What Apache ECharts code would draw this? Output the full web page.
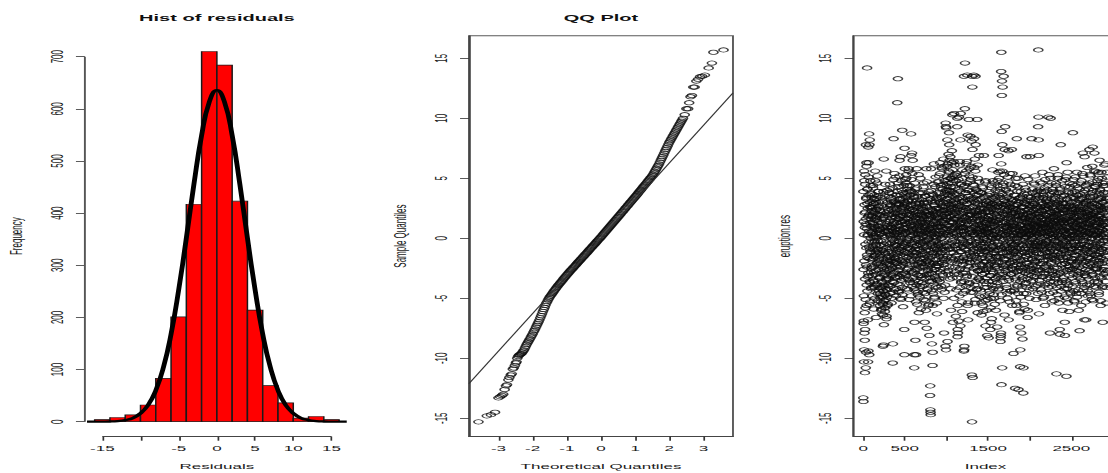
<!DOCTYPE html>
<html><head><meta charset="utf-8">
<script src="https://cdn.jsdelivr.net/npm/echarts@6/dist/echarts.min.js"></script>
<style>
html,body{margin:0;padding:0;background:#fff;overflow:hidden;width:1108px;height:473px;}
#wrap{width:1108px;height:473px;overflow:hidden;position:relative;}
#chart{width:520px;height:473px;transform:scaleX(2.130769);transform-origin:0 0;}
</style></head><body><div id="wrap"><div id="chart"></div></div>
<script>
// ---------- DATA ----------
const histEdges = [-16,-14,-12,-10,-8,-6,-4,-2,0,2,4,6,8,10,12,14,16];
const histCounts = [4,8,13,32,83,201,417,710,684,423,214,69,36,7,10,4];
const densityX = [-17,-16,-15,-14,-13,-12,-11,-10,-9,-8,-7,-6,-5,-4,-3,-2,-1,0,1,2,3,4,5,6,7,8,9,10,11,12,13,14,15,16,17];
const densityY = [0.02,0.05,0.15,0.4,1.2,3,7,16,32,60,104,168,253,352,456,549,613,636,613,549,456,352,253,168,104,60,32,16,7,3,1.2,0.4,0.15,0.05,0.02];
const histXTicks = [-15,-10,-5,0,5,10,15];
const histXLabels = [-15,-5,0,5,10,15];
const histYTicks = [0,100,200,300,400,500,600,700];

// QQ plot: [theoretical quantile, sample quantile] read along the point band
const qqLowTail = [[-3.585,-15.3],[-3.34,-14.8],[-3.22,-14.7],[-3.10,-14.5],[-3.0,-13.3],[-2.95,-13.2],[-2.9,-13.1],[-2.86,-13.0],[-2.82,-12.6],[-2.78,-12.3],[-2.75,-12.2],[-2.71,-11.8],[-2.68,-11.6],[-2.64,-11.4],[-2.61,-11.3],[-2.58,-10.9],[-2.55,-10.8],[-2.52,-10.6],[-2.49,-10.4],[-2.47,-10.3]];
const qqBandTheo = [-2.45,-2.425,-2.4,-2.375,-2.35,-2.325,-2.3,-2.275,-2.25,-2.225,-2.2,-2.175,-2.15,-2.125,-2.1,-2.075,-2.05,-2.025,-2.0,-1.975,-1.95,-1.925,-1.9,-1.875,-1.85,-1.825,-1.8,-1.775,-1.75,-1.725,-1.7,-1.675,-1.65,-1.625,-1.6,-1.575,-1.55,-1.525,-1.5,-1.475,-1.45,-1.425,-1.4,-1.375,-1.35,-1.325,-1.3,-1.275,-1.25,-1.225,-1.2,-1.175,-1.15,-1.125,-1.1,-1.075,-1.05,-1.025,-1.0,
 -0.975,-0.95,-0.925,-0.9,-0.875,-0.85,-0.825,-0.8,-0.775,-0.75,-0.725,-0.7,-0.675,-0.65,-0.625,-0.6,-0.575,-0.55,-0.525,-0.5,-0.475,-0.45,-0.425,-0.4,-0.375,-0.35,-0.325,-0.3,-0.275,-0.25,-0.225,-0.2,-0.175,-0.15,-0.125,-0.1,-0.075,-0.05,-0.025,0,
 0.025,0.05,0.075,0.1,0.125,0.15,0.175,0.2,0.225,0.25,0.275,0.3,0.325,0.35,0.375,0.4,0.425,0.45,0.475,0.5,0.525,0.55,0.575,0.6,0.625,0.65,0.675,0.7,0.725,0.75,0.775,0.8,0.825,0.85,0.875,0.9,0.925,0.95,0.975,1.0,
 1.025,1.05,1.075,1.1,1.125,1.15,1.175,1.2,1.225,1.25,1.275,1.3,1.325,1.35,1.375,1.4,1.425,1.45,1.475,1.5,1.525,1.55,1.575,1.6,1.625,1.65,1.675,1.7,1.725,1.75,1.775,1.8,1.825,1.85,1.875,1.9,1.925,1.95,1.975,2.0,
 2.025,2.05,2.075,2.1,2.125,2.15,2.175,2.2,2.225,2.25,2.275,2.3,2.325,2.35,2.375,2.4];
const qqBandSample = [-10.0,-9.85,-9.75,-9.7,-9.65,-9.6,-9.5,-9.4,-9.3,-9.15,-9.0,-8.85,-8.72,-8.6,-8.48,-8.36,-8.22,-8.1,-7.97,-7.82,-7.68,-7.55,-7.4,-7.25,-7.1,-6.95,-6.8,-6.62,-6.45,-6.28,-6.1,-5.93,-5.76,-5.58,-5.42,-5.28,-5.15,-5.02,-4.9,-4.8,-4.7,-4.6,-4.5,-4.4,-4.3,-4.2,-4.1,-4.01,-3.92,-3.84,-3.75,-3.66,-3.58,-3.49,-3.4,-3.31,-3.23,-3.14,-3.05,
 -2.97,-2.89,-2.81,-2.73,-2.65,-2.58,-2.5,-2.42,-2.34,-2.26,-2.18,-2.1,-2.02,-1.94,-1.87,-1.79,-1.71,-1.63,-1.55,-1.47,-1.39,-1.31,-1.24,-1.16,-1.08,-1.0,-0.92,-0.84,-0.76,-0.68,-0.6,-0.53,-0.45,-0.37,-0.29,-0.21,-0.13,-0.05,0.03,0.1,
 0.18,0.27,0.35,0.44,0.52,0.6,0.69,0.77,0.86,0.94,1.02,1.11,1.19,1.28,1.36,1.44,1.53,1.61,1.7,1.78,1.86,1.95,2.03,2.12,2.2,2.28,2.37,2.45,2.54,2.62,2.7,2.79,2.87,2.96,3.04,3.12,3.21,3.29,3.38,3.46,
 3.55,3.63,3.72,3.81,3.9,3.98,4.07,4.16,4.25,4.33,4.42,4.51,4.6,4.68,4.77,4.86,4.95,5.04,5.12,5.21,5.32,5.44,5.57,5.7,5.82,5.95,6.07,6.2,6.35,6.5,6.65,6.8,6.95,7.1,7.25,7.4,7.55,7.7,7.85,8.0,
 8.12,8.25,8.37,8.5,8.62,8.75,8.87,9.0,9.12,9.25,9.37,9.5,9.62,9.75,9.87,10.0];
const qqHighTail = [[2.45,10.3],[2.5,10.8],[2.55,10.8],[2.58,11.3],[2.62,11.8],[2.66,11.9],[2.7,12.6],[2.74,12.6],[2.79,13.1],[2.84,13.25],[2.9,13.47],[2.96,13.5],[3.04,13.6],[3.15,14.2],[3.245,14.6],[3.29,15.5],[3.585,15.7]];
const qqLineEnds = [[-3.862,-12.11],[3.862,12.11]];
const qqXTicks = [-3,-2,-1,0,1,2,3];
const resYTicks = [-15,-10,-5,0,5,10,15];
const indexTicks = [0,500,1000,1500,2000,2500,3000];
const indexLabels = [0,500,1500,2500];

// residuals at odd indices, one list per block of 100 indices
const residOdd = [
[-13.3,-13.6,-7.1,-6.9,-10.3,-9.3,4.8,-7.9,2.1,-8.5,-11.2,-7.6,5.3,-5.8,1.2,-10.8,7.8,-9.5,3.4,6.3,-5.6,0.8,-2.4,14.2,2.9,-1.6,4.1,-3.2,0.3,-10.3,7.6,-9.4,6.3,1.9,-0.7,8.7,-9.7,7.8,-3.6,8.2,2.6,-5.3,3.7,-1.1,0.5,4.4,-2.8,1.6,-4.1,2.3],
[1.8,-2.3,3.1,0.4,-4.8,2.6,-0.9,1.3,-3.5,4.2,-1.7,0.2,2.9,-5.9,1.1,-2.8,3.6,-0.3,-4.1,2.2,0.9,-1.4,5.6,-3.0,1.7,-0.6,2.4,-6.6,0.1,3.3,-2.1,1.5,-1.0,4.6,-3.8,0.7,-5.2,2.0,-0.2,3.9,-2.6,1.0,-1.9,2.7,-4.4,0.5,3.0,-1.2,1.9,-3.3],
[-1.5,2.3,-4.6,0.8,-5.3,-2.1,3.4,-4.2,-0.6,-5.9,1.6,-3.7,-6.3,0.2,-4.9,2.7,-2.4,-5.5,-9.0,-1.0,-4.4,3.9,-8.9,6.6,-7.2,-3.1,-5.8,0.6,-4.0,1.9,-6.1,-2.8,4.5,-4.7,-1.3,-5.1,2.1,-3.4,5.6,-0.4,-6.5,-2.2,1.2,-4.3,3.0,-5.6,-1.8,0.9,-3.9,2.5],
[0.6,-2.7,3.5,-1.1,2.0,-3.9,1.4,-0.5,4.1,-2.2,0.3,-4.6,2.8,-1.6,1.0,3.2,-3.0,0.0,-1.9,2.4,-5.4,1.7,-0.8,3.7,-2.5,0.9,-3.6,-10.4,-8.8,2.2,-1.4,4.9,8.3,-2.9,1.2,-0.2,3.0,-4.3,0.5,-1.7,2.6,-3.3,1.8,-0.6,5.1,-2.0,0.4,-4.8,2.9,-1.2],
[1.3,-2.4,0.2,3.6,11.3,-1.5,2.1,-3.8,13.3,0.7,-0.9,4.3,-2.7,1.6,-4.5,2.8,-0.3,1.0,6.5,-3.2,0.5,-1.8,3.3,-5.0,6.8,1.9,-2.3,0.1,4.8,-3.5,-1.0,2.5,-0.6,-4.1,9.0,1.4,-2.0,3.8,0.3,-5.7,2.2,-1.3,0.8,3.1,-2.9,1.5,-7.6,-9.7,7.5,-0.4],
[2.6,-1.1,4.9,0.5,-3.0,3.4,1.2,-2.1,5.3,-0.3,2.0,-4.2,3.8,0.9,-1.6,2.7,4.4,-0.8,1.6,-3.4,3.1,0.0,-2.5,5.8,1.9,-1.3,2.3,-5.1,0.6,3.6,-0.9,1.4,-3.7,4.0,0.2,-1.9,2.8,8.7,6.9,-2.7,1.1,3.9,-0.5,7.1,-4.0,2.4,0.7,6.5,-1.4,1.8],
[-0.7,2.2,-3.3,1.0,-1.8,3.5,-10.8,-9.7,-7.0,0.4,-2.6,4.1,-0.1,-8.5,1.7,-4.4,2.9,-9.7,-1.2,0.8,-3.0,5.8,-0.6,1.9,-5.5,3.2,-2.2,0.3,-4.7,2.5,-1.4,1.1,-3.6,5.3,0.0,-2.4,3.0,-0.9,1.6,-4.9,2.0,-1.7,0.6,-3.1,3.7,-0.3,-5.9,1.4,-2.0,2.7],
[-2.1,1.5,-0.4,3.2,-3.7,0.9,-1.3,2.4,-4.5,0.2,1.8,-2.8,4.6,-0.8,-3.9,1.1,2.9,-1.6,0.5,-7.0,-2.4,3.5,-0.2,1.3,-5.2,2.1,-1.0,-3.3,0.7,5.8,-1.9,-7.5,2.6,-0.6,1.0,-4.2,3.0,-2.7,0.4,-1.5,2.2,-5.6,1.6,-0.1,3.9,-3.0,0.8,-8.1,-2.2,1.9],
[-1.7,-13.1,-12.3,-14.3,-14.5,-14.7,0.6,5.8,-2.9,1.8,-0.5,3.1,-8.8,-3.6,0.9,-1.2,-10.6,-9.5,2.3,-4.6,1.2,-2.0,3.6,-0.3,6.2,-2.6,0.4,-5.0,2.7,-1.4,1.5,-3.2,4.3,-0.7,-2.3,2.0,-4.0,0.1,3.3,-1.8,1.0,-5.4,2.5,-0.9,-3.5,1.7,4.7,-2.1,0.3,-1.1],
[1.2,3.8,-0.6,2.5,-2.3,5.2,0.4,-1.5,3.0,-3.6,1.7,6.3,-0.9,2.1,-2.8,4.4,0.0,-1.2,3.4,-4.3,1.0,5.9,-0.4,2.7,-2.0,1.5,4.1,-3.1,0.7,2.3,-1.7,6.6,0.2,-5.0,3.6,-7.9,1.3,-0.8,4.8,-2.5,2.0,0.5,-3.9,3.1,-9.0,9.6,9.3,-9.3,1.8,9.2],
[2.9,5.1,0.8,4.0,-1.5,8.2,-8.6,3.3,6.2,1.1,-2.7,4.6,7.0,0.3,2.4,8.8,7.8,-0.9,5.5,1.8,-3.4,3.7,0.6,6.8,2.2,-1.2,4.3,-6.0,1.4,5.0,-0.4,2.8,7.3,-2.0,3.9,10.3,0.9,5.7,-7.0,2.6,1.3,4.8,-1.8,6.4,0.0,10.4,3.2,-3.0,1.9,5.3],
[1.6,-2.4,4.2,0.5,-0.8,3.0,-6.5,2.1,5.4,-1.4,0.2,3.6,-3.3,1.1,9.3,10.0,-8.2,-7.6,2.7,-7.9,0.6,-1.9,4.9,-6.9,1.8,10.1,-0.5,3.2,-2.6,0.9,6.1,-4.1,2.3,-7.3,8.2,10.4,1.3,-1.1,4.5,-3.6,0.0,2.6,-5.3,1.5,5.7,-0.7,3.4,-2.2,0.8,-4.6],
[0.9,3.1,-1.6,2.2,-9.4,13.5,-9.3,-9.0,4.4,-0.4,10.8,14.6,1.7,-2.9,3.8,0.3,-4.0,2.5,5.6,-1.0,1.4,-3.2,6.4,0.1,13.6,2.9,-1.8,8.6,4.0,-5.4,-6.8,1.2,-0.6,3.5,9.9,-2.4,0.7,5.2,-3.7,2.0,-1.3,4.7,0.4,-2.0,8.5,1.9,-4.5,3.3,-0.2,6.0],
[8.1,1.4,-11.4,-15.3,13.5,12.6,7.4,-11.6,2.6,-1.1,4.5,0.3,-2.8,3.2,13.6,8.3,-0.5,5.9,-3.9,1.7,6.6,-1.4,2.3,-5.1,13.5,7.8,0.8,-2.3,4.1,-0.3,1.9,-4.3,3.6,0.5,9.9,-1.8,2.9,-6.2,5.0,1.1,-2.7,0.0,3.9,-3.4,1.5,6.9,-0.9,2.2,-4.8,0.6],
[-1.3,2.4,0.2,-3.5,1.6,3.8,-0.7,-4.9,2.0,0.6,-6.4,-2.2,4.3,1.0,-1.6,2.8,-3.0,0.3,-5.6,1.9,-0.4,3.4,-2.6,0.9,6.9,-1.1,-4.1,2.5,0.0,-2.9,1.3,4.7,-0.8,-5.2,-7.3,2.2,-1.9,0.5,3.1,-3.8,1.1,-0.2,-6.0,2.7,-8.1,-1.4,0.8,3.6,-2.4,1.5],
[0.4,-2.5,1.8,-8.3,3.0,-0.9,2.2,-4.4,0.7,-1.7,3.7,-3.1,1.2,-7.6,-0.3,2.6,-5.0,-7.0,1.5,-2.0,4.2,0.1,-6.7,2.9,-1.3,0.9,5.7,-3.6,1.7,-0.6,3.3,-2.8,0.3,-4.7,2.4,-1.0,1.1,4.6,-2.2,0.6,-5.5,2.0,-0.8,3.4,-3.3,1.4,-1.5,2.8,0.0,-4.0],
[1.9,-2.3,3.5,0.2,-7.4,2.6,-1.0,4.8,-3.2,1.3,-0.5,5.5,-2.0,6.9,0.8,-4.2,2.9,-1.5,3.9,0.0,-3.0,5.6,1.6,-0.8,-8.6,-8.3,-8.1,-7.9,13.9,15.5,-12.2,8.9,11.9,13.1,-10.8,7.8,2.1,12.6,-1.2,4.4,-3.6,0.5,2.7,13.5,-2.5,1.0,5.3,-0.7,3.1,7.4],
[1.4,-0.6,9.3,2.8,-2.7,0.3,4.1,-1.8,1.0,-3.9,2.3,0.6,-1.2,3.4,-4.6,0.9,2.0,-2.4,5.1,-0.3,1.7,-3.3,7.3,-6.8,0.4,2.6,-1.5,3.8,-0.9,-5.3,1.2,2.9,-2.1,0.0,4.5,-3.0,1.6,-0.4,2.2,-4.4,0.7,3.2,7.4,-1.9,1.1,-2.6,5.4,0.2,-1.0,2.5],
[-0.8,2.1,-9.6,0.5,-2.9,3.6,1.2,-4.3,0.0,2.7,-1.6,4.4,-12.5,-0.5,1.8,-3.5,2.4,-1.1,0.7,-5.6,3.1,-2.2,8.3,0.9,-0.3,1.5,-4.0,2.8,-1.4,5.0,0.2,-2.7,-12.6,1.9,-0.7,3.3,-3.1,0.6,-6.1,2.2,-1.8,-7.4,-10.7,-9.3,1.0,-2.4,3.9,0.3,-7.9,-1.3],
[1.1,-1.9,2.6,0.4,-3.4,1.7,-8.4,3.5,-0.6,2.0,-2.5,-12.9,-10.8,0.8,-4.6,1.4,3.0,-1.2,0.1,-5.9,2.3,-0.8,4.2,-2.9,1.6,0.5,-3.7,2.8,-1.5,0.9,6.8,-2.1,1.3,-4.1,3.7,-0.4,2.1,-6.6,0.6,-1.7,4.9,1.0,-3.0,2.4,-0.9,0.3,-2.3,3.2,-5.0,1.8],
[0.7,6.8,-1.4,2.2,-0.2,1.5,-2.8,3.1,0.4,-3.6,1.9,8.3,-0.9,2.7,-1.8,0.0,3.8,-2.3,1.2,-4.2,0.6,2.4,-1.0,4.6,-2.6,1.0,0.2,-3.2,2.9,-0.6,1.7,-1.9,5.2,0.9,-2.0,3.3,-0.4,1.4,-5.1,2.0,-1.2,0.5,3.5,-2.7,1.1,-0.7,2.6,-3.9,0.3,4.0],
[9.3,15.7,10.1,8.2,6.9,-6.3,1.8,-1.3,3.4,0.2,-2.6,2.0,4.7,-0.7,1.3,-3.8,2.6,0.5,-1.6,3.9,-0.3,1.6,-4.5,2.3,0.8,-2.1,5.5,1.2,-0.9,2.9,-3.2,0.4,3.6,-1.8,1.0,-4.9,2.4,0.1,-2.4,4.2,1.5,-5.6,-0.5,2.7,-3.0,0.9,1.9,-1.1,3.1,-0.2],
[1.6,-2.2,3.3,0.6,-0.9,4.0,-3.4,1.2,2.5,-1.5,0.2,10.1,-4.1,2.8,0.9,-0.4,5.3,-2.7,1.5,3.1,-1.1,-7.9,0.4,2.2,-3.6,10.0,1.8,-0.6,3.7,-2.0,0.0,4.6,-5.3,1.3,-1.4,2.6,0.7,-3.0,3.9,-0.8,1.1,-4.5,2.0,0.3,-1.7,5.8,-2.5,1.4,0.5,-3.3],
[0.9,2.7,-1.8,3.5,0.1,-3.1,1.6,4.4,-0.7,2.0,-11.3,-2.4,1.0,3.0,-4.7,0.5,2.3,-1.2,5.0,-0.3,1.4,-3.7,2.9,0.7,-5.4,3.8,-1.6,0.2,2.1,-2.9,-7.6,-8.0,1.2,4.1,-0.9,2.5,7.8,-1.4,0.6,-4.0,3.2,1.7,-2.2,0.0,4.8,-3.5,1.5,-0.6,2.4,-1.0],
[-0.4,2.1,-2.8,1.3,3.6,-1.0,0.6,-4.2,2.4,-0.2,-7.0,-8.1,1.8,4.9,-2.1,0.3,-3.5,2.9,1.0,-1.5,-11.5,6.3,0.4,-5.0,3.3,-0.8,1.6,5.5,-2.6,0.1,2.6,-3.9,1.2,-0.6,3.8,-1.9,0.8,-6.1,2.2,0.0,-2.4,4.3,1.4,-1.2,0.5,-4.6,2.7,-0.3,1.9,-2.0],
[1.5,-1.7,3.0,0.2,-3.3,2.4,4.5,-0.9,1.1,8.8,-2.5,0.6,3.4,-4.4,1.8,-0.3,2.7,-1.4,0.0,-5.3,3.9,1.3,-2.2,0.8,5.1,-0.6,2.2,-3.8,1.0,-1.1,3.6,0.4,-2.7,1.7,-4.9,2.9,-0.2,0.9,4.2,-1.9,1.4,-3.0,2.3,0.3,-6.0,1.9,-0.8,3.2,-2.4,-7.7],
[0.8,2.6,-1.3,3.7,0.0,-2.9,1.5,4.6,-0.5,-5.6,2.1,-1.9,0.7,3.3,-3.6,1.2,5.4,-0.8,2.4,7.1,-1.5,0.3,-4.3,2.9,1.0,-2.3,3.8,-0.2,-6.8,6.8,1.6,-3.1,0.5,2.2,-1.0,4.4,-2.6,0.9,3.0,-6.8,1.3,-0.7,2.5,-3.9,0.2,5.9,-1.6,1.8,-4.8,2.0],
[-1.2,2.3,0.5,-3.4,4.1,1.1,-0.6,2.8,7.4,-2.1,0.9,3.5,-4.6,1.6,-0.3,2.0,5.2,-1.7,0.4,-2.8,3.1,1.4,-5.1,0.0,2.6,-1.0,4.7,-3.0,7.6,1.9,-0.9,3.6,-2.3,0.6,2.1,-4.0,1.3,5.6,7.1,-1.4,0.2,2.9,-3.3,1.0,-0.5,4.3,-2.6,1.7,0.3,-1.8],
[2.2,-0.7,3.9,1.0,-2.5,0.4,4.8,-1.6,2.7,-3.7,1.5,0.0,5.5,-2.1,1.8,-4.5,3.2,0.6,-1.3,6.5,2.0,-3.2,0.9,4.0,-0.4,1.3,-5.2,2.6,-1.1,3.4,0.2,-2.6,1.6,5.0,-0.9,2.3,-4.1,0.7,-7.0,3.0,1.1,-1.8,4.4,0.1,-3.0,2.5,-0.2,1.4,-2.4,3.6],
[1.7,-2.0,4.6,0.5,-3.6,2.8,6.2,-0.8,1.2,-5.4,3.3,0.0,-1.5,2.4,5.1,-2.7,0.9,3.8,-1.1]
];
// residuals at even indices, one list per block of 100 indices
const residEven = [
[3.9,-2.6,1.4,-4.8,0.3,5.6,-1.9,2.8,-6.2,0.9,-3.4,4.5,-0.5,2.2,-5.1,1.6,-2.2,3.3,-0.8,6.0,-3.9,1.1,-1.4,4.1,-4.4,0.2,2.5,-6.8,1.8,-2.9,3.6,-0.3,5.1,-3.1,0.6,-1.7,2.0,-5.5,3.0,-0.9,1.3,-3.7,4.8,-1.2,0.0,2.6,-4.2,1.0,-2.5,3.4],
[-0.3,2.5,-1.8,3.7,0.6,-3.1,1.9,-0.7,4.4,-2.4,1.2,-4.0,0.1,2.9,-1.5,3.3,-3.6,0.8,-0.2,2.1,-5.0,1.5,4.8,-1.1,0.4,-2.7,3.0,-0.5,1.7,-3.9,2.4,0.0,-1.3,5.2,-2.0,1.0,-4.6,3.5,-0.9,2.6,-2.2,0.7,3.9,-1.7,1.4,-3.3,0.3,2.0,-0.6,-5.6],
[-3.2,0.7,-5.0,-1.4,2.2,-4.1,-0.2,-6.0,1.3,-2.9,-4.8,0.4,-3.6,-1.0,3.1,-5.4,-2.3,0.9,-4.4,-6.4,1.8,-1.7,-3.9,-0.5,2.6,-5.2,-2.6,0.1,-4.7,-1.2,3.5,-3.0,-5.8,0.5,-2.0,-4.2,1.4,-0.8,-3.5,-6.7,0.2,-2.5,4.0,-4.9,-1.6,1.0,-3.3,-5.5,0.6,-2.1],
[2.3,-1.5,0.4,-3.4,1.9,3.8,-0.9,-2.6,0.8,4.5,-1.8,2.7,-4.0,0.2,1.5,-2.3,3.4,-0.4,-5.0,2.0,0.9,-1.2,3.0,-3.1,1.2,-0.1,4.2,-2.0,0.6,-4.5,2.5,-0.7,1.4,-3.7,3.1,0.3,-1.6,5.4,-2.8,0.8,2.1,-0.5,-3.2,1.7,3.6,-1.0,0.0,-4.2,2.8,-1.9],
[-0.6,2.4,-2.1,1.0,3.9,-3.3,0.5,2.0,-1.3,4.6,-4.4,1.6,-0.2,2.9,-2.6,0.3,5.2,-1.1,1.8,-3.9,3.2,0.7,-2.4,1.3,-0.8,3.6,-5.1,2.2,0.0,-1.9,4.0,-3.0,1.1,2.6,-0.4,-4.7,1.9,3.3,-2.2,0.6,-1.5,2.4,4.4,-3.4,0.9,-0.7,2.8,-2.9,1.4,5.8],
[3.0,0.4,-1.9,4.6,1.7,-0.5,2.9,-3.1,5.0,1.2,-1.2,3.5,0.0,-2.6,4.1,2.2,-0.8,1.6,-4.3,3.2,0.7,5.6,-1.5,2.5,-0.2,3.9,-3.5,1.3,4.4,-0.9,2.0,0.5,-2.2,3.6,1.0,-4.8,2.7,0.2,4.9,-1.7,1.9,-0.4,3.1,-2.9,5.4,0.8,-1.1,2.4,0.3,-3.7],
[1.5,-2.8,0.6,3.4,-1.5,-4.2,2.3,-0.3,1.2,-3.5,4.6,-0.9,2.0,-2.2,0.0,-5.3,3.1,-1.2,1.4,-3.9,2.6,-0.6,4.2,-2.6,0.9,-1.8,3.5,-4.5,1.7,-0.2,-3.1,2.2,0.4,-6.2,1.0,3.8,-2.0,0.7,-1.0,2.9,-4.0,1.3,-0.5,5.0,-2.4,0.3,-3.3,1.9,-1.4,2.5],
[0.4,-3.1,2.0,-1.1,3.8,-4.0,1.3,-0.6,2.6,-2.3,0.2,4.3,-1.7,-5.1,1.6,-0.3,3.0,-3.4,0.9,2.2,-1.4,-4.6,3.5,0.6,-2.1,1.1,-6.0,2.7,-0.8,1.9,-3.0,0.1,4.7,-1.9,-0.2,2.3,-4.3,1.5,3.2,-2.6,0.7,-1.0,2.0,-5.5,0.0,3.6,-2.0,1.2,-3.6,0.5],
[2.0,-1.0,3.3,-3.3,0.7,-0.4,1.6,-2.5,4.0,-4.4,0.3,2.4,-1.5,1.1,-3.0,3.7,-0.6,-5.6,2.1,0.5,-2.1,4.5,-1.2,1.4,-3.8,0.1,2.8,-0.9,-4.9,1.9,3.0,-2.6,0.6,-1.8,5.1,-0.2,1.2,-3.4,2.5,0.0,-2.3,1.7,-6.3,3.4,-1.3,0.9,-0.5,2.2,-4.1,1.0],
[3.2,-0.4,1.6,4.7,-2.1,2.4,0.2,-3.4,3.7,1.0,-1.3,5.4,0.6,-2.6,2.9,-0.7,4.2,1.4,-4.0,2.0,0.0,3.4,-1.8,5.8,0.9,-0.9,2.6,-3.0,1.8,4.5,-1.5,0.4,3.0,-2.2,1.2,6.0,-0.3,2.3,-4.5,1.5,3.8,-1.0,0.7,2.7,-2.8,4.0,0.3,-1.7,2.1,-0.6],
[4.4,1.6,-0.7,3.3,6.0,2.1,-1.9,4.9,0.5,3.6,-3.0,2.6,5.6,1.0,-0.4,4.0,2.8,-2.4,6.5,1.4,3.9,-0.9,2.3,5.0,-4.2,1.8,3.1,0.2,4.6,-1.6,2.5,6.3,0.8,-0.2,3.5,1.3,-3.3,5.2,2.0,0.4,4.3,-1.2,2.9,1.6,-5.0,3.7,0.9,6.1,2.4,-0.6],
[2.2,-0.3,3.7,-2.8,1.0,4.8,-1.5,0.4,2.9,-4.3,1.7,-0.9,5.2,0.2,-2.1,3.3,-5.6,1.4,-0.6,2.5,4.1,-3.0,0.8,1.9,-1.7,3.4,0.0,-4.8,2.7,6.4,-1.1,1.2,-2.5,3.9,0.6,-0.8,2.1,-3.7,4.5,1.0,-1.9,0.3,3.0,-6.1,1.6,5.0,-0.4,2.4,-2.9,0.9],
[-0.2,2.6,4.3,-1.9,1.3,-3.6,0.6,3.1,-0.9,5.4,1.8,-2.6,0.2,2.3,-4.4,3.8,0.9,-1.4,6.2,1.5,-0.5,2.9,-3.1,0.4,4.6,-1.7,1.1,-5.6,2.0,3.5,-0.3,-2.3,1.6,4.0,0.0,-3.8,2.5,5.8,-1.2,0.8,3.2,-2.0,1.9,-0.7,4.9,-4.1,0.5,2.2,-1.5,3.0],
[2.0,-1.8,3.9,0.5,-3.2,1.6,5.1,-0.6,2.6,-4.5,0.9,3.4,-1.3,1.2,-2.5,4.4,0.3,-0.9,2.1,-5.4,3.0,1.0,-2.0,5.6,0.0,2.4,-3.6,1.5,-0.4,4.0,-1.6,0.7,3.2,-4.2,1.9,-0.8,2.8,6.1,-2.7,0.4,1.4,-1.1,3.6,-3.3,0.8,2.3,-0.2,4.7,-2.2,1.1],
[0.8,-2.7,1.9,-0.5,3.3,-4.3,0.2,2.5,-1.7,-5.4,1.2,3.8,-0.9,-3.0,2.1,0.4,-1.4,4.2,-2.3,1.0,-6.1,2.8,0.0,-3.6,1.5,-0.7,3.5,-2.0,0.6,-4.8,2.2,-1.1,1.7,-3.3,0.3,4.8,-0.4,-2.6,1.3,2.9,-1.9,0.8,-4.1,3.1,-0.2,1.6,-5.1,2.4,-1.2,0.5],
[-1.0,2.7,-3.6,0.5,1.6,-2.2,3.9,-0.4,-4.6,2.2,0.9,-1.5,3.1,-3.1,0.2,-5.8,1.9,-0.8,2.5,-2.6,4.4,0.6,-1.9,1.2,-3.9,2.9,0.0,-0.7,4.8,-2.9,1.4,-4.2,0.3,2.1,-1.2,3.5,-5.0,1.0,-0.3,2.6,-2.4,0.7,-3.4,4.0,1.5,-1.6,-6.0,2.3,0.1,-2.0],
[0.6,3.0,-1.5,2.1,-3.7,1.2,4.4,-0.3,-2.5,2.7,0.1,-4.3,3.6,1.5,-1.0,5.0,-2.8,0.5,2.3,-0.6,3.4,-5.2,1.8,4.1,-1.6,0.3,2.6,-3.3,6.2,1.0,-0.8,-4.7,2.9,0.4,-2.0,3.7,5.6,-1.2,1.3,-3.0,2.0,-0.1,4.6,-2.3,0.8,3.2,-1.8,1.7,-6.4,2.5],
[-1.7,1.9,0.3,-3.2,2.8,-0.5,4.0,-2.2,0.9,1.6,-4.1,3.0,-0.8,2.2,-1.4,0.5,-5.0,3.6,1.1,-2.6,0.0,4.7,-1.1,2.4,-3.5,1.3,0.6,-0.2,3.3,-2.0,5.4,-4.4,1.8,-0.9,2.6,0.2,-3.0,1.4,-1.5,4.2,-0.4,2.0,-2.5,0.8,-5.6,3.1,1.0,-1.3,2.3,-0.6],
[1.3,-2.3,3.2,0.2,-1.1,2.5,-4.4,1.0,-0.5,3.6,-2.0,0.7,-3.3,2.1,5.0,-0.8,1.6,-5.2,0.4,2.8,-1.6,-2.8,3.9,0.0,-3.9,1.9,-0.3,4.3,-1.9,0.9,-4.6,2.4,0.3,-1.2,3.0,-2.5,1.5,-6.2,0.6,2.0,-0.9,3.4,-3.6,1.1,-0.1,-4.9,2.6,0.5,-2.2,1.7],
[-0.5,2.2,-2.7,1.5,0.3,-4.0,3.3,-1.1,0.8,4.5,-3.2,1.9,-0.2,2.6,-5.5,0.6,-1.8,3.7,1.1,-2.4,0.0,5.2,-0.9,1.7,-3.8,2.9,0.4,-1.5,4.0,-4.6,1.3,0.1,-2.1,3.1,-0.6,2.0,-3.4,1.0,-6.0,2.4,0.7,-1.3,3.5,-2.7,0.2,1.6,-4.3,2.8,-0.4,1.2],
[1.4,-1.1,0.3,2.6,-2.5,0.9,3.4,-0.6,1.8,-3.1,0.5,2.2,-1.7,0.0,4.1,-2.2,1.1,-0.4,2.9,-3.5,0.7,1.6,-1.3,3.1,-0.8,2.0,-2.8,0.2,4.5,-1.5,1.2,-0.2,2.5,-4.0,0.6,3.6,-1.0,1.5,-2.4,0.4,2.7,-3.2,1.0,-0.6,3.9,-1.9,0.8,2.1,-0.3,-4.6],
[2.1,-0.9,1.0,-2.7,3.6,0.4,-1.6,2.5,-3.5,1.3,4.1,-0.2,1.8,-2.1,0.6,3.0,-4.3,1.2,-0.7,2.3,0.0,-3.2,4.6,1.5,-1.3,2.8,-0.4,0.9,-5.0,3.4,1.1,-1.9,2.0,-0.6,3.9,-2.9,0.5,1.7,-1.0,2.6,-3.9,0.2,4.9,-1.5,1.3,-0.3,2.4,-2.4,0.8,3.2],
[-0.4,1.9,-2.6,3.0,0.8,-1.2,2.4,-3.8,1.4,0.2,4.4,-1.8,0.6,-2.9,2.7,1.1,-0.7,3.6,-4.6,0.4,2.0,-1.5,1.6,-3.3,5.0,0.1,-0.9,2.2,-2.1,1.0,3.3,-4.0,0.7,-1.6,2.9,0.3,-2.7,4.1,1.2,-0.5,1.8,-3.6,0.0,2.5,-1.1,3.8,-5.2,1.5,-0.2,2.3],
[1.8,-1.4,3.3,-0.2,2.1,-3.4,0.7,4.6,-1.9,1.1,-0.6,2.8,-4.1,0.3,1.9,-2.5,3.7,0.9,-1.1,5.3,-3.0,1.5,-0.4,2.4,0.0,-5.0,3.1,1.3,-1.8,2.0,-0.8,4.2,-2.9,0.6,1.6,-1.3,-4.4,2.6,0.2,3.5,-2.2,1.0,-0.5,2.9,-3.7,1.4,-6.0,0.8,3.0,-1.6],
[0.5,-1.8,2.9,1.2,-3.3,0.1,3.6,-0.9,-4.9,2.3,0.7,-2.1,4.3,-0.4,1.6,-3.7,2.6,0.2,-1.3,5.1,-2.7,1.0,-0.6,3.2,-4.2,1.8,0.4,-1.6,2.2,-5.4,0.9,3.9,-2.3,1.3,-0.1,2.7,-3.1,0.6,-1.0,4.6,1.9,-2.6,0.0,2.1,-4.5,1.4,3.4,-0.8,-1.9,2.5],
[-0.9,2.3,0.6,-2.6,3.8,-1.2,1.4,-4.0,2.6,0.3,-0.5,4.9,-3.0,1.6,-1.7,2.1,-5.2,0.9,3.3,-0.3,1.8,-2.3,4.4,0.0,-3.6,2.4,1.0,-1.4,3.0,-4.6,0.5,1.9,-0.8,5.5,-2.0,1.2,-3.2,2.8,0.2,-1.1,3.6,-4.3,0.8,2.2,-0.6,1.5,-2.8,4.1,0.4,-1.8],
[2.4,-0.6,1.1,-3.4,3.3,0.5,-1.7,2.2,-4.6,1.4,4.8,-0.8,0.3,-2.5,3.6,1.8,-1.2,0.7,-3.8,2.7,5.2,-0.2,1.5,-2.0,0.9,3.4,-4.1,1.2,-0.5,2.5,-2.9,0.1,4.0,-1.4,1.7,-5.3,2.9,0.6,-1.9,3.1,0.0,-3.2,1.9,4.5,-0.9,2.1,-2.3,0.4,-4.4,1.3],
[0.9,3.1,-1.6,1.8,-0.3,4.6,-2.7,0.4,2.4,-3.9,1.2,5.3,-1.1,0.6,3.4,-2.2,1.5,-4.8,2.0,0.0,3.8,-1.3,0.8,-3.1,2.9,6.0,-0.7,1.7,-2.0,4.0,0.3,-5.2,2.2,-0.4,1.0,3.5,-1.8,2.6,-3.6,0.7,4.3,-0.9,1.6,-2.5,0.2,5.6,-1.4,2.4,-4.1,1.1],
[-0.3,2.8,1.2,-2.3,4.5,0.6,-1.4,3.2,-3.6,1.9,0.1,5.0,-0.8,2.3,-4.7,1.3,3.7,-1.9,0.5,2.7,-2.8,4.1,0.9,-0.5,1.8,-5.6,3.3,0.3,-1.6,2.4,5.5,-3.3,1.1,-0.9,3.0,-2.1,0.7,4.6,-4.0,1.6,-0.2,2.1,-1.2,3.8,0.4,-2.6,1.4,6.1,-0.7,2.6],
[0.3,3.1,-1.4,2.2,-2.9,4.4,1.0,-0.6,2.7,-4.1,1.6,5.5,-1.9,0.8,3.4,-3.2,1.9,-0.2]
];

// ---------- BUILD ----------
const FONT = 'Liberation Sans';
const TXT = '#1a1a1a';
const histBars = histCounts.map((c,i)=>[histEdges[i],histEdges[i+1],c]);
const densityData = densityX.map((x,i)=>[x,densityY[i]]);
const qqData = qqLowTail.concat(qqBandTheo.map((t,i)=>[t,qqBandSample[i]]), qqHighTail);
const resData = [];
residOdd.forEach((blk,b)=>blk.forEach((v,j)=>resData.push([b*100+1+2*j,v])));
residEven.forEach((blk,b)=>blk.forEach((v,j)=>resData.push([b*100+2+2*j,v])));

const G = {top:35.8, height:400.7, width:123.9};
const gridBase = {top:G.top, width:G.width, height:G.height, outerBoundsMode:'none', containLabel:false};
const grids = [
  Object.assign({left:39.84, show:false}, gridBase),
  Object.assign({left:220.1, show:true, borderColor:'#5a5a5a', borderWidth:0.9, backgroundColor:'transparent'}, gridBase),
  Object.assign({left:400.56, show:true, borderColor:'#5a5a5a', borderWidth:0.9, backgroundColor:'transparent'}, gridBase)
];
const HIST_X = [-17.28,17.28], HIST_Y = [-28.4,740.1];
const RES_Y = [-16.52,16.875];
const QQ_X = [-3.862,3.862];
const IDX_X = [-116.4,3054.4];

const tickStyle = {color:'#333', width:0.8};
const lblStyle = {fontSize:8, color:TXT, fontFamily:FONT};
function xAxis(gi, range, ticks, labels, name, lineShow){
  return {type:'value', gridIndex:gi, min:range[0], max:range[1], position:'bottom',
    axisLine:{show:lineShow, onZero:false, lineStyle:{color:'#444', width:0.9}},
    splitLine:{show:false},
    axisTick:{show:true, customValues:ticks, length:4.2, lineStyle:tickStyle},
    axisLabel:Object.assign({customValues:labels, margin:8, formatter:v=>String(v), showMinLabel:true, showMaxLabel:true}, lblStyle),
    name:name, nameLocation:'middle', nameGap:25.5, nameMoveOverlap:false, nameTextStyle:{fontSize:8, color:TXT, fontFamily:FONT}};
}
function yAxis(gi, range, ticks, name, lineShow){
  return {type:'value', gridIndex:gi, min:range[0], max:range[1], position:'left',
    axisLine:{show:lineShow, onZero:false, lineStyle:{color:'#444', width:0.9}},
    splitLine:{show:false},
    axisTick:{show:true, customValues:ticks, length:4.2, lineStyle:tickStyle},
    axisLabel:Object.assign({customValues:ticks, rotate:90, margin:9.2, formatter:v=>String(v)}, lblStyle),
    name:name, nameLocation:'middle', nameGap:28.3, nameMoveOverlap:false, nameTextStyle:{fontSize:8, color:TXT, fontFamily:FONT}};
}

const circleStyle = {color:'rgba(0,0,0,0)', borderColor:'#0d0d0d', borderWidth:0.8};

const option = {
  animation:false,
  backgroundColor:'#ffffff',
  title:[
    {text:'Hist of residuals', left:101.8, top:12.8, textAlign:'center', padding:0,
     textStyle:{fontSize:9.4, fontWeight:'bold', color:'#111', fontFamily:FONT}},
    {text:'QQ Plot', left:282.05, top:12.8, textAlign:'center', padding:0,
     textStyle:{fontSize:9.4, fontWeight:'bold', color:'#111', fontFamily:FONT}}
  ],
  grid:grids,
  xAxis:[
    xAxis(0, HIST_X, histXTicks, histXLabels, 'Residuals', false),
    xAxis(1, QQ_X, qqXTicks, qqXTicks, 'Theoretical Quantiles', true),
    xAxis(2, IDX_X, indexTicks, indexLabels, 'Index', true)
  ],
  yAxis:[
    yAxis(0, HIST_Y, histYTicks, 'Frequency', false),
    yAxis(1, RES_Y, resYTicks, 'Sample Quantiles', true),
    yAxis(2, RES_Y, resYTicks, 'eruption.res', true)
  ],
  series:[
    {type:'custom', xAxisIndex:0, yAxisIndex:0, data:histBars, clip:false,
     renderItem:function(params, api){
       const p0 = api.coord([api.value(0), api.value(2)]);
       const p1 = api.coord([api.value(1), 0]);
       return {type:'rect', shape:{x:p0[0], y:p0[1], width:p1[0]-p0[0], height:p1[1]-p0[1]},
               style:{fill:'#ff0000', stroke:'#1a1a1a', lineWidth:0.7}};
     }},
    {type:'line', xAxisIndex:0, yAxisIndex:0, data:densityData, smooth:true, symbol:'none', clip:true,
     lineStyle:{color:'#000', width:2.3}},
    {type:'line', xAxisIndex:0, yAxisIndex:0, data:[[histXTicks[0],HIST_Y[0]],[histXTicks[histXTicks.length-1],HIST_Y[0]]], symbol:'none', clip:false,
     lineStyle:{color:'#444', width:0.9}},
    {type:'line', xAxisIndex:0, yAxisIndex:0, data:[[HIST_X[0],histYTicks[0]],[HIST_X[0],histYTicks[histYTicks.length-1]]], symbol:'none', clip:false,
     lineStyle:{color:'#555', width:0.9}},
    {type:'scatter', xAxisIndex:1, yAxisIndex:1, data:qqData, symbol:'circle', symbolSize:4.3, itemStyle:circleStyle, large:false},
    {type:'line', xAxisIndex:1, yAxisIndex:1, data:qqLineEnds, symbol:'none', lineStyle:{color:'#333', width:0.7}},
    {type:'scatter', xAxisIndex:2, yAxisIndex:2, data:resData, symbol:'circle', symbolSize:4.3, itemStyle:circleStyle, large:false, largeThreshold:100000}
  ]
};
const chart = echarts.init(document.getElementById('chart'), null, {renderer:'svg'});
chart.setOption(option);
</script>
</body></html>
